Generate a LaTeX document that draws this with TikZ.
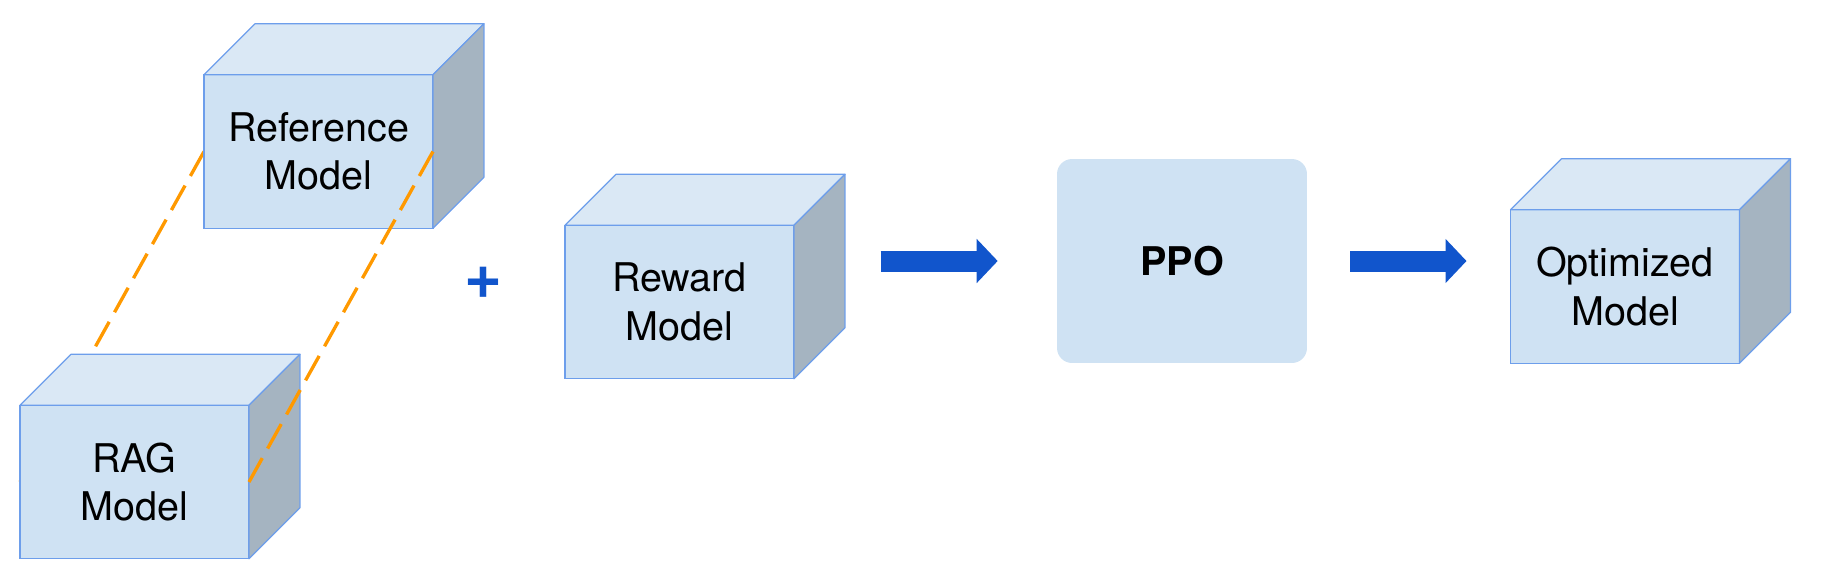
\documentclass[tikz,border=0pt]{standalone}
\usepackage{fontspec}
\setmainfont{TeX Gyre Heros}
\usetikzlibrary{arrows.meta,backgrounds}
\usepackage{xcolor}
\definecolor{faceblue}{HTML}{CFE2F3}
\definecolor{topblue}{HTML}{DAE8F5}
\definecolor{sidegray}{HTML}{A5B4C1}
\definecolor{edgeblue}{HTML}{6D9EEB}
\definecolor{arrowblue}{HTML}{1155CC}
\definecolor{dashorange}{HTML}{FF9900}

\newcommand{\modelfont}{\fontsize{22.5pt}{27.6pt}\selectfont}
% top and side of a cube whose front face is the node #1
\newcommand{\cubefaces}[1]{%
  \filldraw[topface] (#1.north west) -- ++(51,-51) -- ([shift={(51,-51)}]#1.north east) -- (#1.north east) -- cycle;
  \filldraw[sideface] (#1.north east) -- ++(51,-51) -- ([shift={(51,-51)}]#1.south east) -- (#1.south east) -- cycle;}

\tikzset{
  modelbox/.style={shape=rectangle, fill=faceblue, draw=edgeblue, line width=0.7pt, minimum width=4.58cm, minimum height=3.07cm, inner sep=0pt, outer sep=0pt, align=center, font=\modelfont},
  topface/.style={fill=topblue, draw=edgeblue, line width=0.7pt, line join=round},
  sideface/.style={fill=sidegray, draw=edgeblue, line width=0.7pt, line join=round},
  ppobox/.style={shape=rectangle, fill=faceblue, rounded corners=0.3cm, minimum width=5cm, minimum height=4.08cm, inner sep=0pt, font=\modelfont\bfseries},
  plussign/.style={text=arrowblue, inner sep=0pt, font=\fontsize{37pt}{37pt}\selectfont\bfseries},
  fatarrow/.style={->, draw=arrowblue, line width=0.42cm},
  linkdash/.style={draw=dashorange, line width=1.9pt, dash pattern=on 0.56cm off 0.22cm},
}

\begin{document}
\begin{tikzpicture}
    [x=0.02cm, y=-0.02cm,
     >={Triangle[length=0.42cm, width=0.86cm]},  % fat block arrows
    ]
\useasboundingbox (0,0) rectangle (1826,576);

\node[modelbox] (ref) at (318.5,151.5) {Reference\\Model};
\cubefaces{ref}
\node[modelbox] (rag) at (134.5,482) {RAG\\Model};
\cubefaces{rag}
\node[plussign] (plus) at (483.5,283) {+};
\node[modelbox] (reward) at (679.5,302) {Reward\\Model};
\cubefaces{reward}
\node[ppobox] (ppo) at (1182,261) {PPO};
\node[modelbox] (opt) at (1625,286.5) {Optimized\\Model};
\cubefaces{opt}

% dashed links between the two stacked models
\begin{scope}[on background layer]
\draw[linkdash] (ref.west) -- (rag.west);
\end{scope}
\draw[linkdash] (ref.east) -- (rag.east);

\draw[fatarrow] ([xshift=-3.52cm]ppo.west) -- ([xshift=-1.18cm]ppo.west);
\draw[fatarrow] ([xshift=0.86cm]ppo.east) -- ([xshift=-0.88cm]opt.west |- ppo.east);

\end{tikzpicture}
\end{document}
